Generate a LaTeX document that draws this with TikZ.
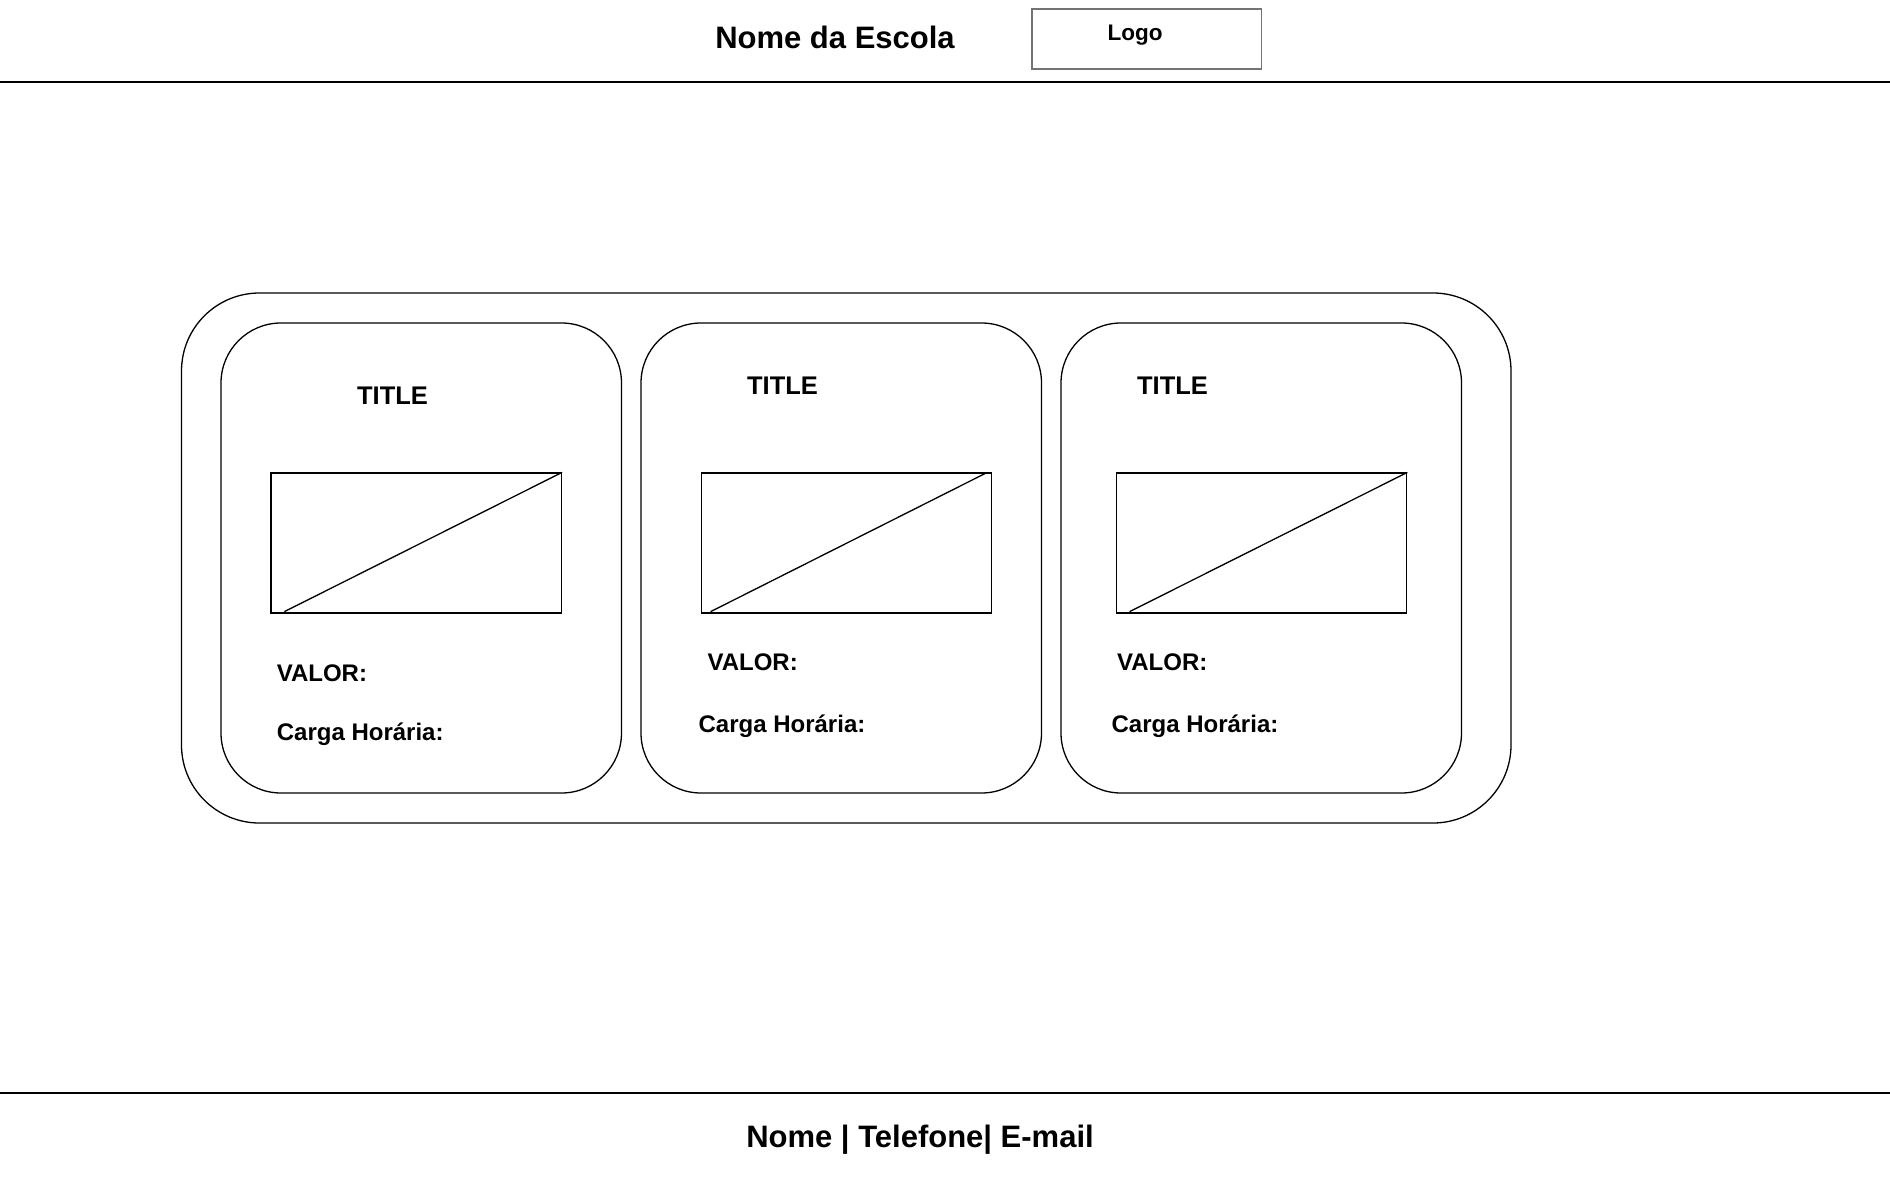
\documentclass[tikz,border=0pt]{standalone}
\usepackage{fontspec}
\setmainfont{Liberation Sans}
\usepackage{tikz}
\usetikzlibrary{calc}

\begin{document}
\begin{tikzpicture}[x=1pt,y=-1pt,line width=1.3pt,
                    card node/.style={draw,rounded corners=60pt,minimum width=400.5pt,minimum height=470pt,inner sep=0pt},
                    image node/.style={draw,minimum width=290.5pt,minimum height=140pt,inner sep=0pt},
                    title node/.style={anchor=base,inner sep=0pt,font=\bfseries\fontsize{25.5}{30}\selectfont},
                    label node/.style={anchor=base west,inner sep=0pt,font=\bfseries\fontsize{24}{28}\selectfont}]

  \useasboundingbox (0,0) rectangle (1890,1177);

  % header
  \coordinate (hl) at (0,82);
  \coordinate (hr) at (1890,82);
  \draw (hl) -- (hr);
  \node[anchor=base,inner sep=0pt,font=\bfseries\fontsize{31}{36}\selectfont] (school) at (835,48.3) {Nome da Escola};
  \node[draw=black!55,line width=1.5pt,minimum width=229.7pt,minimum height=60pt,inner sep=0pt] (logo) at (1146.75,39) {};
  \node[anchor=base,inner sep=0pt,font=\bfseries\fontsize{22.5}{27}\selectfont] (logotext) at (1135,40.7) {Logo};

  % courses
  \node[draw,rounded corners=78pt,minimum width=1329.5pt,minimum height=530pt,inner sep=0pt] (outer) at (846.25,558) {};

  \node[card node] (c1) at (421.25,558) {};
  \node[card node] (c2) at (841.25,558) {};
  \node[card node] (c3) at (1261.25,558) {};

  \node[title node] (t1) at (392.5,404) {TITLE};
  \node[title node] (t2) at (782.5,394) {TITLE};
  \node[title node] (t3) at (1172.5,394) {TITLE};

  \node[image node] (i1) at (416.25,543) {};
  \node[image node] (i2) at (846.5,543) {};
  \node[image node] (i3) at (1261.5,543) {};
  \draw ($(i1.south west)+(14pt,2pt)$) -- (i1.north east);
  \draw ($(i2.south west)+(10pt,2pt)$) -- ($(i2.north east)+(-5pt,0pt)$);
  \draw ($(i3.south west)+(14pt,2pt)$) -- (i3.north east);

  \node[label node] (v1) at (276.2,681) {VALOR:};
  \node[label node] (v2) at (706.9,670.5) {VALOR:};
  \node[label node] (v3) at (1116.5,670.5) {VALOR:};
  \node[label node] (h1) at (276.2,740.7) {Carga Horária:};
  \node[label node] (h2) at (698,732) {Carga Horária:};
  \node[label node] (h3) at (1111,732) {Carga Horária:};

  % footer
  \coordinate (fl) at (0,1093);
  \coordinate (fr) at (1890,1093);
  \draw (fl) -- (fr);
  \node[anchor=base,inner sep=0pt,font=\bfseries\fontsize{31}{36}\selectfont] (contact) at (920,1147.7) {Nome | Telefone| E-mail};
\end{tikzpicture}
\end{document}
